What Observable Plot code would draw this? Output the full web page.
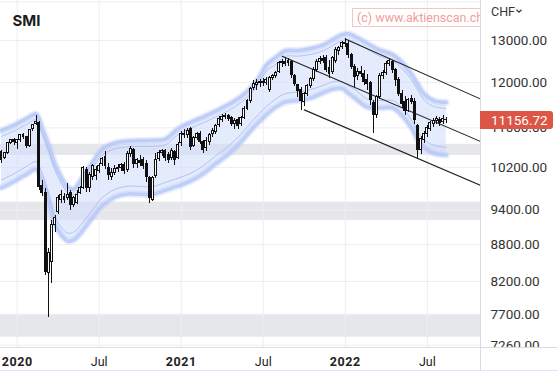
<!DOCTYPE html>
<html>
<head>
<meta charset="utf-8">
<script src="https://cdn.jsdelivr.net/npm/d3@7"></script>
<script src="https://cdn.jsdelivr.net/npm/@observablehq/plot@0.6"></script>
<style>
  html, body { margin: 0; padding: 0; background: #fff; }
  #chart { position: relative; width: 558px; height: 371px; overflow: hidden; }
  #wm { position: absolute; left: 352px; top: 8px; width: 128px; height: 19px; overflow: hidden; }
  #wm div { position: absolute; left: 0; top: 0; height: 17px; width: 170px; border: 1px solid #f6c4c4;
            font: 12.5px Roboto, sans-serif; color: #f29c9c; line-height: 17px; padding-left: 4px; white-space: nowrap; }
</style>
</head>
<body>
<div id="chart"><div id="wm"><div id="wmtext"></div></div></div>
<script>
// ---------- data ----------
const title = "SMI";
const currency = "CHF";
const watermark = "(c) www.aktienscan.ch";
const lastPrice = 11156.72;
const weekStart = "2019-12-02"; // first weekly candle (Monday)

const open = [10495,10375,10475,10678,10738,10678,10738,10842,10801,10617,
  10967,11072,11093,9834,9703,8330,8508,9128,9357,9592,
  9647,9611,9721,9483,9537,9721,9796,10141,9796,10006,
  10025,10122,10257,10395,10180,10006,10083,10160,10180,10238,
  10141,10455,10535,10257,10316,10335,10257,9987,9592,10025,
  10355,10475,10515,10435,10375,10495,10375,10678,10863,10842,
  10967,10617,10780,10863,10698,10576,10698,10863,10904,11051,
  11157,11221,11242,11199,11072,11157,11072,11199,11414,11569,
  11861,11929,11975,11998,11975,11816,12090,12136,12229,12441,
  12465,12441,12465,12136,11929,11816,11547,11726,11906,12067,
  12276,12465,12537,12561,12323,12229,12512,12730,12827,12926,
  12901,12633,12346,12136,12229,12182,12043,11975,11525,11264,
  11659,12136,12206,12417,12465,12276,12043,11726,11547,11371,
  11614,11547,11030,10535,10738,10863,10967,11072,11135,11157,
  11114,11157];
const high = [10535,10495,10698,10759,10780,10759,10863,10884,10822,10967,
  11072,11264,11135,9947,9796,8738,9216,9304,9666,9758,
  9703,9890,9758,9647,9758,9834,10218,10199,10102,10257,
  10218,10277,10395,10515,10277,10180,10238,10257,10277,10296,
  10515,10617,10576,10375,10435,10395,10335,10025,10025,10475,
  10535,10556,10556,10495,10576,10535,10698,10925,10967,10988,
  11009,10822,10904,10925,10738,10801,10884,10988,11072,11242,
  11285,11307,11285,11242,11199,11221,11242,11458,11614,11884,
  12043,12067,12067,12090,12113,12136,12182,12252,12489,12537,
  12561,12561,12512,12182,11952,11884,11771,11952,12113,12346,
  12537,12609,12633,12633,12512,12609,12827,12852,12975,13050,
  13000,12682,12417,12323,12370,12276,12182,12020,11591,11703,
  12206,12276,12489,12561,12512,12323,12113,11816,11681,11636,
  11703,11636,11072,10822,10925,11051,11135,11199,11242,11221,
  11264,11221];
const low = [10277,10355,10455,10658,10637,10556,10698,10759,10576,10597,
  10925,11051,9758,9647,8299,7660,8174,9007,9322,9519,
  9519,9574,9393,9447,9501,9684,9777,9721,9721,9947,
  9947,10083,10218,10160,9947,9947,10044,10102,10122,10064,
  10102,10395,10180,10180,10218,10160,9909,9519,9556,9987,
  10316,10415,10316,10277,10335,10238,10355,10617,10780,10780,
  10535,10597,10738,10658,10475,10515,10637,10801,10863,11009,
  11114,11178,11135,11030,10967,10967,11030,11178,11371,11525,
  11816,11816,11884,11906,11929,11771,12043,12090,12206,12346,
  12370,12370,12090,11906,11659,11371,11458,11681,11861,12020,
  12229,12417,12441,12229,12090,12182,12441,12633,12779,12827,
  12561,12299,11884,12043,12113,11929,11816,11480,10884,11199,
  11614,12067,12159,12370,12206,11906,11681,11414,11264,11328,
  11503,11072,10375,10455,10678,10801,10925,11009,11072,11030,
  11072,11093];
const close = [10335,10475,10678,10738,10698,10738,10842,10801,10617,10946,
  11051,11114,9815,9703,8346,8654,9128,9251,9611,9666,
  9592,9666,9483,9611,9684,9796,10180,9796,10044,10218,
  10141,10218,10355,10218,10044,10083,10160,10180,10238,10122,
  10455,10556,10257,10335,10277,10218,10006,9611,9987,10335,
  10475,10515,10375,10335,10515,10335,10637,10863,10842,10925,
  10597,10780,10863,10698,10535,10718,10842,10925,11030,11178,
  11221,11242,11178,11072,11135,11030,11199,11414,11569,11838,
  11952,11975,11998,11975,12043,12090,12136,12206,12441,12465,
  12417,12489,12159,11952,11793,11569,11726,11906,12067,12276,
  12465,12537,12512,12276,12182,12561,12754,12803,12926,12901,
  12633,12346,12113,12229,12182,11998,11952,11591,11264,11659,
  12136,12206,12417,12489,12276,12043,11726,11503,11371,11591,
  11547,11157,10535,10759,10863,10988,11093,11135,11178,11093,
  11178,11156.72];

// envelope (bands)
const bandDates = ["2019-12-02","2019-12-30","2020-01-27","2020-02-17","2020-03-02","2020-03-16","2020-03-30","2020-04-13","2020-04-27","2020-05-11",
  "2020-05-25","2020-06-15","2020-07-13","2020-08-10","2020-09-07","2020-10-05","2020-11-02","2020-11-30","2020-12-28","2021-01-25",
  "2021-02-22","2021-03-22","2021-04-19","2021-05-17","2021-06-14","2021-06-28","2021-07-12","2021-08-02","2021-08-23","2021-09-20",
  "2021-10-18","2021-11-15","2021-12-06","2021-12-27","2022-01-10","2022-01-24","2022-02-21","2022-03-21","2022-04-18","2022-05-09",
  "2022-05-30","2022-06-13","2022-06-27","2022-07-18","2022-08-15"];
const upperOuter = [10946,11059,11201,11297,10990,10645,10267,10013,9826,9792,
  9941,10215,10562,10692,10728,10738,10742,10770,10982,11122,
  11233,11363,11508,11684,11950,12152,12407,12590,12750,12754,
  12803,12890,13025,13148,13168,13105,12931,12764,12657,12468,
  12195,11959,11740,11593,11551];
const upperInner = [10821,10934,11074,11170,10865,10523,10151,9900,9713,9679,
  9827,10098,10441,10570,10607,10617,10621,10648,10857,10997,
  11106,11233,11372,11547,11812,12018,12267,12422,12612,12617,
  12657,12744,12876,12998,13018,12955,12784,12615,12513,12318,
  12063,11823,11604,11459,11417];
const lowerInner = [9957,10077,10221,10312,10068,9695,9279,9095,8995,9016,
  9125,9341,9624,9779,9839,9835,9831,9911,9991,10087,
  10230,10429,10621,10873,11182,11317,11460,11627,11743,11780,
  11834,11929,12009,12020,11919,11837,11622,11591,11591,11430,
  11167,10917,10757,10640,10599];
const lowerOuter = [9806,9924,10066,10157,9915,9547,9139,8957,8859,8879,
  8986,9200,9478,9633,9691,9687,9683,9760,9839,9934,
  10075,10271,10459,10711,11013,11146,11276,11444,11556,11591,
  11644,11761,11842,11856,11752,11642,11440,11426,11426,11259,
  10998,10746,10593,10479,10439];

// grey support zones
const zoneLow = [10435, 9217, 7372];
const zoneHigh = [10660, 9543, 7700];

// trend channel
const channelNames = ["upper", "middle", "lower"];
const channelFromDate = ["2022-01-03", "2021-08-16", "2021-10-04"];
const channelFromValue = [13037, 12616, 11385];
const channelToDate = ["2022-10-30", "2022-10-30", "2022-10-30"];
const channelToValue = [11625, 10718, 9854];

// axes
const xDomainDates = ["2019-11-30", "2022-10-30"];
const yDomainValues = [7228, 14033];
const yGridTicks = [14000, 13000, 12000, 11000, 10200, 9400, 8800, 8200, 7700, 7260];
const yLabelTicks = [13000, 12000, 11000, 10200, 9400, 8800, 8200, 7700, 7260];
const xYearTickDates = ["2020-01-06", "2021-01-04", "2022-01-03"];
const xYearLabels = ["2020", "2021", "2022"];
const xMidTickDates = ["2020-07-06", "2021-07-05", "2022-07-04"];
const xMidLabels = ["Jul", "Jul", "Jul"];

// ---------- build ----------
const parse = d3.utcParse("%Y-%m-%d");
const start = parse(weekStart);
const candles = open.map((o, i) => ({date: d3.utcDay.offset(start, 7 * i), open: o, high: high[i], low: low[i], close: close[i]}));
const bands = bandDates.map((d, i) => ({date: parse(d), uo: upperOuter[i], ui: upperInner[i], li: lowerInner[i], lo: lowerOuter[i]}));
const zones = zoneLow.map((lo, i) => ({lo, hi: zoneHigh[i]}));
const channel = channelNames.flatMap((name, i) => [
  {name, date: parse(channelFromDate[i]), value: channelFromValue[i]},
  {name, date: parse(channelToDate[i]), value: channelToValue[i]}
]);
const yearTicks = xYearTickDates.map(parse);
const midTicks = xMidTickDates.map(parse);
const curve = "catmull-rom";
const bandBlue = "#b7c8f8";

const plot = Plot.plot({
  width: 558, height: 371,
  marginLeft: 0, marginRight: 78, marginTop: 0, marginBottom: 24,
  style: {fontFamily: "Roboto, sans-serif", background: "transparent", overflow: "visible"},
  x: {type: "utc", domain: xDomainDates.map(parse)},
  y: {type: "log", domain: yDomainValues, axis: null},
  marks: [
    Plot.rect(zones, {y1: "lo", y2: "hi", fill: "#e6e7eb"}),
    Plot.gridY(yGridTicks, {stroke: "#eeeef1", strokeOpacity: 1}),
    Plot.gridX([...yearTicks, ...midTicks], {stroke: "#eeeef1", strokeOpacity: 1}),
    Plot.areaY(bands, {x: "date", y1: "lo", y2: "uo", fill: "#d2ddfc", fillOpacity: 0.6, curve}),
    Plot.line(bands, {x: "date", y: "uo", stroke: bandBlue, strokeWidth: 7, strokeOpacity: 0.3, curve}),
    Plot.line(bands, {x: "date", y: "lo", stroke: bandBlue, strokeWidth: 7, strokeOpacity: 0.3, curve}),
    Plot.line(bands, {x: "date", y: "uo", stroke: bandBlue, strokeWidth: 3.5, strokeOpacity: 0.8, curve}),
    Plot.line(bands, {x: "date", y: "lo", stroke: bandBlue, strokeWidth: 3.5, strokeOpacity: 0.8, curve}),
    Plot.line(bands, {x: "date", y: "ui", stroke: "#a2b5ef", strokeWidth: 1, strokeOpacity: 0.75, curve}),
    Plot.line(bands, {x: "date", y: "li", stroke: "#a2b5ef", strokeWidth: 1, strokeOpacity: 0.75, curve}),
    Plot.line(channel, {x: "date", y: "value", z: "name", stroke: "#222", strokeWidth: 1.1, clip: true}),
    Plot.ruleX(candles, {x: "date", y1: "low", y2: "high", stroke: "#111", strokeWidth: 1, shapeRendering: "crispEdges", clip: true}),
    Plot.rect(candles, {filter: d => d.close >= d.open,
      x1: d => d3.utcHour.offset(d.date, -52), x2: d => d3.utcHour.offset(d.date, 52),
      y1: "open", y2: "close", fill: "#fff", stroke: "#111", strokeWidth: 1, shapeRendering: "crispEdges", clip: true}),
    Plot.rect(candles, {filter: d => d.close < d.open,
      x1: d => d3.utcHour.offset(d.date, -52), x2: d => d3.utcHour.offset(d.date, 52),
      y1: "open", y2: "close", fill: "#111", stroke: "#111", strokeWidth: 1, shapeRendering: "crispEdges", clip: true}),
    Plot.text(yLabelTicks, {y: d => d, text: d => d.toFixed(2), frameAnchor: "right", dx: 10, textAnchor: "start",
      fontSize: 13.5, fill: "#333"}),
    Plot.axisX(yearTicks, {anchor: "bottom", tickSize: 0, tickPadding: 9.5, fontSize: 12.5, fontWeight: "bold", fill: "#222",
      tickFormat: d => xYearLabels[yearTicks.findIndex(t => +t === +d)]}),
    Plot.axisX(midTicks, {anchor: "bottom", tickSize: 0, tickPadding: 9.5, fontSize: 12.5, fill: "#222",
      tickFormat: d => xMidLabels[midTicks.findIndex(t => +t === +d)]})
  ]
});

const chart = document.getElementById("chart");
chart.insertBefore(plot, chart.firstChild);
document.getElementById("wmtext").textContent = watermark;

// ---------- decorations ----------
const svg = d3.select(plot);
const defs = svg.insert("defs", ":first-child");
defs.append("clipPath").attr("id", "yclip").append("rect")
  .attr("x", 480).attr("y", 0).attr("width", 78).attr("height", 347);

// clip right-axis labels at the bottom frame line
const axisGroups = new Set();
svg.selectAll("text").each(function() {
  if (/^\d+\.\d\d$/.test(this.textContent)) axisGroups.add(this.parentNode);
  if (/^\d{4}$/.test(this.textContent)) d3.select(this).style("letter-spacing", "0.6px");
});
axisGroups.forEach(g => {
  const wrap = document.createElementNS("http://www.w3.org/2000/svg", "g");
  wrap.setAttribute("clip-path", "url(#yclip)");
  g.parentNode.insertBefore(wrap, g);
  wrap.appendChild(g);
});

svg.append("line").attr("x1", 480.5).attr("x2", 480.5).attr("y1", 0).attr("y2", 371).attr("stroke", "#dcdce0");
svg.append("line").attr("x1", 0).attr("x2", 558).attr("y1", 347.5).attr("y2", 347.5).attr("stroke", "#dcdce0");
svg.append("line").attr("x1", 0).attr("x2", 558).attr("y1", 370.5).attr("y2", 370.5).attr("stroke", "#dde4fb");

const deco = svg.append("g").attr("text-anchor", "start");
// title
deco.append("text").attr("x", 12.5).attr("y", 26).attr("font-size", 15).attr("font-weight", "bold")
  .attr("font-family", "Inter, Roboto, sans-serif").attr("fill", "#1e1e1e").text(title);

// currency
deco.append("text").attr("x", 491).attr("y", 16).attr("font-size", 12.5).attr("fill", "#333").text(currency);
deco.append("path").attr("d", "M516.5,9.8L519,12.2L521.5,9.8").attr("fill", "none").attr("stroke", "#333").attr("stroke-width", 1.2);

// last price label
const yLast = plot.scale("y").apply(lastPrice);
deco.append("path")
  .attr("d", `M480,${yLast - 9}H550a3,3 0 0 1 3,3V${yLast + 6}a3,3 0 0 1 -3,3H480Z`)
  .attr("fill", "#dd5544");
deco.append("text").attr("x", 491).attr("y", yLast).attr("dy", "0.35em").attr("font-size", 13.5)
  .attr("fill", "#fff").text(lastPrice.toFixed(2));
</script>
</body>
</html>
